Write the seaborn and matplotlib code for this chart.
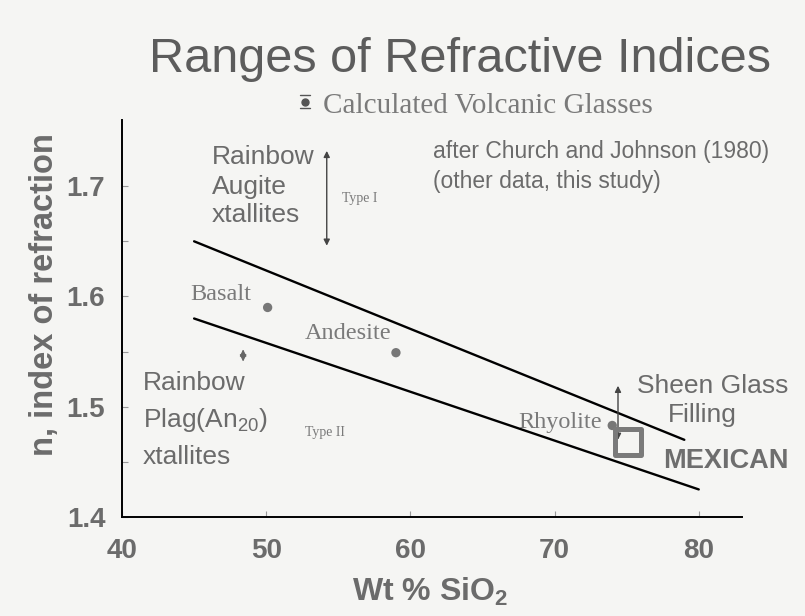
import matplotlib
matplotlib.use("Agg")
import matplotlib.pyplot as plt
import seaborn as sns
import pandas as pd
from matplotlib.lines import Line2D

# ---------------- data ----------------
upper_si = [45, 79]
upper_n = [1.65, 1.47]
lower_si = [45, 80]
lower_n = [1.58, 1.425]

rock_names = ["Basalt", "Andesite", "Rhyolite"]
rock_si = [50.1, 59.0, 74.0]
rock_n = [1.590, 1.549, 1.483]

mexican_si = [75.1]
mexican_n = [1.468]

augite_si = [54.2, 54.2]
augite_n = [1.646, 1.732]
plag_si = [48.4, 48.4]
plag_n = [1.541, 1.552]
sheen_si = [74.4, 74.4]
sheen_n = [1.470, 1.519]

x_ticks = [40, 50, 60, 70, 80]
y_ticks = [1.4, 1.5, 1.6, 1.7]
y_minor = [1.45, 1.55, 1.65]

# ---------------- style ----------------
sns.set_theme(style="white")
plt.rcParams["font.family"] = ["Liberation Sans", "DejaVu Sans"]
plt.rcParams["mathtext.fontset"] = "custom"
plt.rcParams["mathtext.rm"] = "Liberation Sans"
plt.rcParams["mathtext.bf"] = "Liberation Sans:bold"
plt.rcParams["mathtext.it"] = "Liberation Sans:italic"

W, H = 805, 616
BG = "#f5f5f3"
GREY = "#6b6b6b"
SERIF_GREY = "#7a7a7a"

fig = plt.figure(figsize=(W / 100, H / 100), dpi=100, facecolor=BG)
ax = fig.add_axes([122 / W, 1 - 517 / H, (742 - 122) / W, (517 - 120) / H])
ax.set_facecolor(BG)

lines_df = pd.DataFrame({
    "si": upper_si + lower_si,
    "n": upper_n + lower_n,
    "bound": ["upper"] * len(upper_si) + ["lower"] * len(lower_si),
})
sns.lineplot(data=lines_df, x="si", y="n", units="bound", estimator=None,
             color="black", linewidth=1.7, ax=ax, legend=False)

rocks_df = pd.DataFrame({"si": rock_si, "n": rock_n, "rock": rock_names})
sns.scatterplot(data=rocks_df, x="si", y="n", color="#777777", s=45,
                edgecolor="none", ax=ax, legend=False, zorder=4)

sns.scatterplot(x=mexican_si, y=mexican_n, marker="s", s=330,
                facecolor="none", edgecolor="#7a7a7a", linewidth=3.6,
                ax=ax, legend=False, zorder=5)

arrow_kw = dict(arrowstyle="<|-|>", color="#444444", lw=1.0,
                mutation_scale=9, shrinkA=0, shrinkB=0)
for xs, ys in [(augite_si, augite_n), (sheen_si, sheen_n)]:
    ax.annotate("", xy=(xs[1], ys[1]), xytext=(xs[0], ys[0]),
                arrowprops=arrow_kw)
ax.annotate("", xy=(plag_si[1], plag_n[1]), xytext=(plag_si[0], plag_n[0]),
            arrowprops=dict(arrowstyle="<|-|>", color="#666666", lw=0.8,
                            mutation_scale=10, shrinkA=0, shrinkB=0))

ax.set_xlim(40, 83)
ax.set_ylim(1.4, 1.76)
ax.set_xticks(x_ticks)
ax.set_yticks(y_ticks)
ax.set_yticks(y_minor, minor=True)
ax.set_xticklabels([str(v) for v in x_ticks])
ax.set_yticklabels([f"{v:.1f}" for v in y_ticks])
ax.tick_params(axis="both", which="both", direction="in", length=4,
               width=0.8, color="#999999", labelcolor=GREY,
               left=True, bottom=True)
ax.tick_params(axis="y", which="major", pad=12, labelsize=20)
ax.tick_params(axis="x", which="major", pad=15, labelsize=20)
for lab in ax.get_xticklabels() + ax.get_yticklabels():
    lab.set_fontweight("bold")
for side in ["top", "right"]:
    ax.spines[side].set_visible(False)
for side in ["left", "bottom"]:
    ax.spines[side].set_color("black")
    ax.spines[side].set_linewidth(1.4)
ax.set_xlabel("")
ax.set_ylabel("")


def ftext(px, py, s, **kw):
    return fig.text(px / W, 1 - py / H, s, **kw)


# axis labels
ftext(430, 592, r"Wt % SiO$_\mathbf{2}$", ha="center", va="center",
      fontsize=23, fontweight="bold", color=GREY)
ftext(44, 295, "n, index of refraction", ha="center", va="center",
      rotation=90, fontsize=23.5, fontweight="bold", color=GREY)

# title & notes
ftext(460, 72, "Ranges of Refractive Indices", ha="center", va="baseline",
      fontsize=35, color="#5c5c5c")
ftext(323, 113, "Calculated Volcanic Glasses", ha="left", va="baseline",
      fontsize=21, color=SERIF_GREY, family=["Liberation Serif"])
ftext(433, 158, "after Church and Johnson (1980)", ha="left",
      va="baseline", fontsize=16.5, color=GREY)
ftext(433, 188, "(other data, this study)", ha="left", va="baseline",
      fontsize=16.5, color=GREY)

# legend symbol (dot with bars)
fig.add_artist(Line2D([300 / W, 310 / W], [1 - 95 / H, 1 - 95 / H],
                      color="#555555", lw=1.0))
fig.add_artist(Line2D([300 / W, 310 / W], [1 - 108 / H, 1 - 108 / H],
                      color="#555555", lw=1.0))
fig.add_artist(Line2D([305 / W], [1 - 101.5 / H], marker="o",
                      markersize=5, color="#555555", linestyle="none"))

# mineral blocks
for txt, py in [("Rainbow", 164), ("Augite", 194), ("xtallites", 222)]:
    ftext(212, py, txt, ha="left", va="baseline", fontsize=19, color=GREY)
for txt, py in [("Rainbow", 390), (r"Plag(An$_{\mathrm{20}}$)", 427),
                ("xtallites", 464)]:
    ftext(143, py, txt, ha="left", va="baseline", fontsize=19, color=GREY)
ftext(342, 202, "Type I", ha="left", va="baseline", fontsize=10,
      color=SERIF_GREY, family=["Liberation Serif"])
ftext(305, 436, "Type II", ha="left", va="baseline", fontsize=10,
      color=SERIF_GREY, family=["Liberation Serif"])

# rock labels
for name, px, py in [("Basalt", 190, 300), ("Andesite", 305, 339),
                     ("Rhyolite", 518, 428)]:
    ftext(px, py, name, ha="left", va="baseline", fontsize=17.5,
          color=SERIF_GREY, family=["Liberation Serif"])

ftext(637, 393, "Sheen Glass", ha="left", va="baseline", fontsize=19,
      color=GREY)
ftext(668, 422, "Filling", ha="left", va="baseline", fontsize=19,
      color=GREY)
ftext(663, 468, "MEXICAN", ha="left", va="baseline", fontsize=19.5,
      fontweight="bold", color="#6e6e6e")

fig.savefig("out.png", dpi=100, facecolor=BG)
